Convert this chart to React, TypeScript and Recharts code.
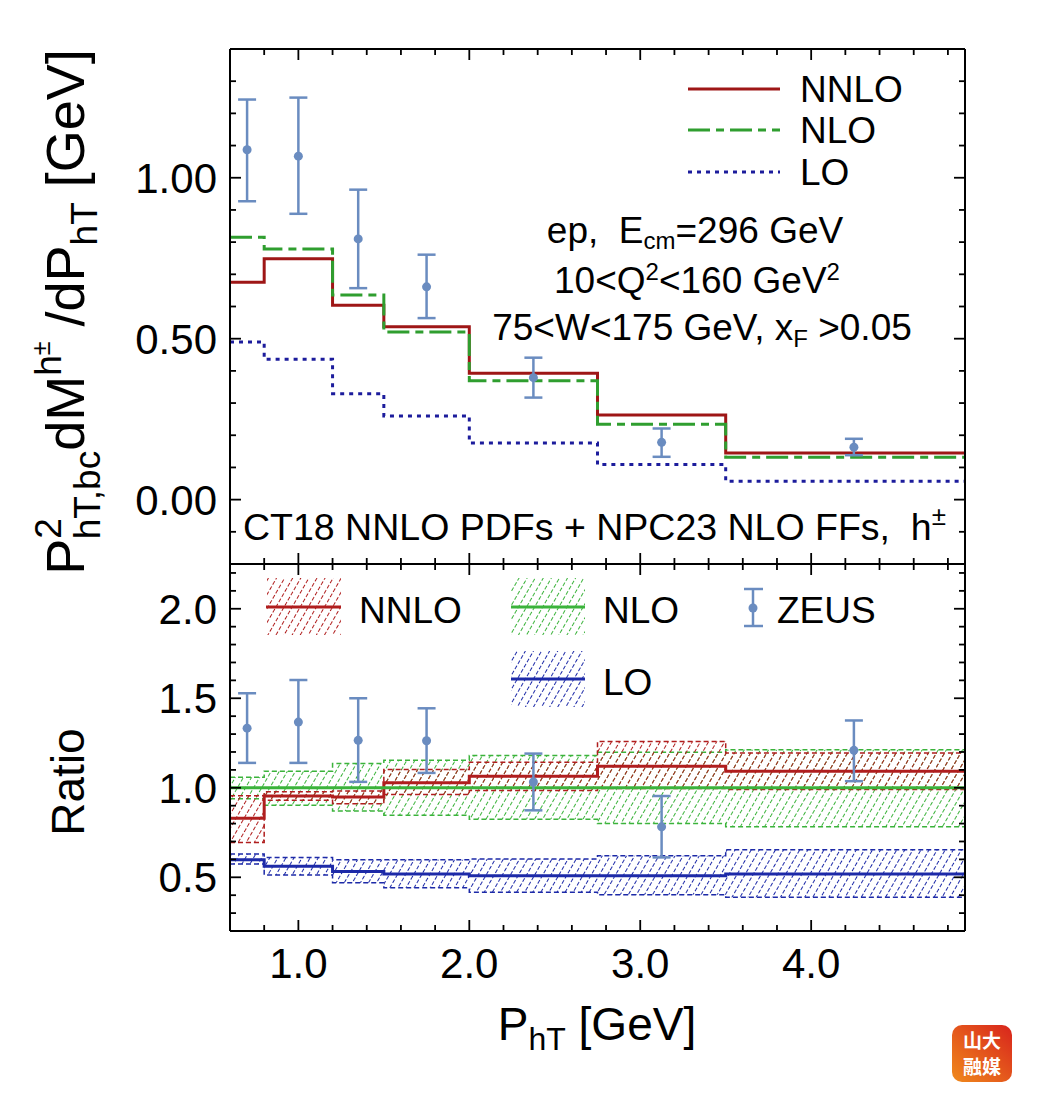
import { ComposedChart, Line, Area, Scatter, ErrorBar, XAxis, YAxis } from 'recharts';

// bin edges of the P_hT histogram and ZEUS bin centres
const binEdges = [0.6, 0.8, 1.2, 1.5, 2.0, 2.75, 3.5, 5.0];
const zeusPt = [0.7, 1.0, 1.35, 1.75, 2.375, 3.125, 4.25];

// upper panel: distributions
const nnloTop = [0.675, 0.748, 0.604, 0.537, 0.393, 0.263, 0.145];
const nloTop = [0.815, 0.779, 0.636, 0.521, 0.369, 0.234, 0.132];
const loTop = [0.49, 0.436, 0.329, 0.26, 0.176, 0.109, 0.057];
const zeusTop = [1.087, 1.067, 0.81, 0.661, 0.379, 0.178, 0.163];
const zeusTopHi = [1.243, 1.249, 0.963, 0.761, 0.441, 0.221, 0.189];
const zeusTopLo = [0.927, 0.888, 0.657, 0.564, 0.317, 0.133, 0.138];

// lower panel: ratios to NLO
const nnloRatio = [0.83, 0.954, 0.948, 1.028, 1.065, 1.12, 1.093];
const nnloRatioHi = [0.955, 0.978, 0.982, 1.102, 1.143, 1.259, 1.194];
const nnloRatioLo = [0.694, 0.93, 0.911, 0.963, 0.985, 0.996, 0.991];
const nloRatio = [1, 1, 1, 1, 1, 1, 1];
const nloRatioHi = [1.059, 1.093, 1.135, 1.154, 1.18, 1.198, 1.213];
const nloRatioLo = [0.939, 0.902, 0.871, 0.847, 0.824, 0.8, 0.783];
const loRatio = [0.598, 0.561, 0.532, 0.519, 0.509, 0.509, 0.519];
const loRatioHi = [0.63, 0.611, 0.598, 0.598, 0.602, 0.62, 0.654];
const loRatioLo = [0.574, 0.513, 0.469, 0.441, 0.417, 0.402, 0.389];
const zeusRatio = [1.333, 1.367, 1.265, 1.263, 1.032, 0.782, 1.209];
const zeusRatioHi = [1.528, 1.602, 1.5, 1.444, 1.191, 0.954, 1.376];
const zeusRatioLo = [1.139, 1.139, 1.033, 1.083, 0.874, 0.611, 1.037];

// ticks
const xTicks = [0.8, 1.0, 1.2, 1.4, 1.6, 1.8, 2.0, 2.2, 2.4, 2.6, 2.8, 3.0, 3.2, 3.4, 3.6, 3.8, 4.0, 4.2, 4.4, 4.6, 4.8];
const topYTicks = [-0.1, 0, 0.1, 0.2, 0.3, 0.4, 0.5, 0.6, 0.7, 0.8, 0.9, 1.0, 1.1, 1.2, 1.3];
const ratioYTicks = [0.3, 0.4, 0.5, 0.6, 0.7, 0.8, 0.9, 1.0, 1.1, 1.2, 1.3, 1.4, 1.5, 1.6, 1.7, 1.8, 1.9, 2.0, 2.1, 2.2];

const FONT = '"Liberation Sans", Arial, Helvetica, sans-serif';
const RED = '#9e1616';
const GREEN = '#2f9e2f';
const BLUE = '#1c1c9c';
const RED2 = '#b01e1e';
const GREEN2 = '#3bb33b';
const BLUE2 = '#1d2aa8';
const ZEUS = '#6a8cc0';
const NLO_DASH = '22 6 8 6';

const steps = (vals: number[]) => {
  const rows = vals.map((v, i) => ({ x: binEdges[i], v }));
  rows.push({ x: binEdges[binEdges.length - 1], v: vals[vals.length - 1] });
  return rows;
};

const bandSteps = (lo: number[], hi: number[]) => {
  const rows = lo.map((l, i) => ({ x: binEdges[i], band: [l, hi[i]] }));
  rows.push({ x: binEdges[binEdges.length - 1], band: [lo[lo.length - 1], hi[hi.length - 1]] });
  return rows;
};

const points = (vals: number[], lo: number[], hi: number[]) =>
  zeusPt.map((x, i) => ({ x, y: vals[i], err: [vals[i] - lo[i], hi[i] - vals[i]] }));

const isMajor = (v: number, step: number) => Math.abs(v / step - Math.round(v / step)) < 1e-6;

// frame ticks point inward, like the Mathematica frame
const XTick = ({ x, y, payload, side, label }: any) => {
  const major = isMajor(payload.value, 1);
  const len = major ? 11 : 6;
  const dir = side === 'bottom' ? -1 : 1;
  return (
    <g>
      <line x1={x} x2={x} y1={y} y2={y + dir * len} stroke="#000" strokeWidth={1.8} />
      {label && major && (
        <text x={x} y={y + 47} textAnchor="middle" fontSize={42} fontFamily={FONT} fill="#000">
          {payload.value.toFixed(1)}
        </text>
      )}
    </g>
  );
};

const YTick = ({ x, y, payload, side, digits }: any) => {
  const major = isMajor(payload.value, 0.5);
  const len = major ? 11 : 6;
  const dir = side === 'left' ? 1 : -1;
  return (
    <g>
      <line x1={x} x2={x + dir * len} y1={y} y2={y} stroke="#000" strokeWidth={1.8} />
      {side === 'left' && major && (
        <text x={x - 13} y={y + 15} textAnchor="end" fontSize={42} fontFamily={FONT} fill="#000">
          {Math.abs(payload.value).toFixed(digits)}
        </text>
      )}
    </g>
  );
};

const frame = { stroke: '#000', strokeWidth: 2 };

const axes = (yDomain: number[], yTicks: number[], digits: number, bottomLabels: boolean) => [
  <XAxis key="xb" xAxisId="b" type="number" dataKey="x" domain={[0.6, 4.9]} allowDataOverflow ticks={xTicks}
    interval={0} orientation="bottom" height={20} tickSize={0} tickMargin={0} tickLine={false} axisLine={frame}
    tick={(p: any) => <XTick {...p} side="bottom" label={bottomLabels} />} />,
  <XAxis key="xt" xAxisId="t" type="number" dataKey="x" domain={[0.6, 4.9]} allowDataOverflow ticks={xTicks}
    interval={0} orientation="top" height={20} tickSize={0} tickMargin={0} tickLine={false} axisLine={frame}
    tick={(p: any) => <XTick {...p} side="top" />} />,
  <YAxis key="yl" yAxisId="l" type="number" domain={yDomain} allowDataOverflow ticks={yTicks}
    interval={0} orientation="left" width={20} tickSize={0} tickMargin={0} tickLine={false} axisLine={frame}
    tick={(p: any) => <YTick {...p} side="left" digits={digits} />} />,
  <YAxis key="yr" yAxisId="r" type="number" domain={yDomain} allowDataOverflow ticks={yTicks}
    interval={0} orientation="right" width={20} tickSize={0} tickMargin={0} tickLine={false} axisLine={frame}
    tick={(p: any) => <YTick {...p} side="right" digits={digits} />} />,
];

const zeusShape = (p: any) => <circle cx={p.cx} cy={p.cy} r={4.5} fill={ZEUS} />;

function TopPanel() {
  return (
    <ComposedChart width={1040} height={600} margin={{ top: 29, right: 55, bottom: 16, left: 210 }}>
      {axes([-0.2, 1.4], topYTicks, 2, false)}
      <Line xAxisId="b" yAxisId="l" data={steps(loTop)} dataKey="v" type="stepAfter" stroke={BLUE}
        strokeWidth={3} strokeDasharray="4 5" dot={false} activeDot={false} isAnimationActive={false} />
      <Line xAxisId="b" yAxisId="l" data={steps(nnloTop)} dataKey="v" type="stepAfter" stroke={RED}
        strokeWidth={3} dot={false} activeDot={false} isAnimationActive={false} />
      <Line xAxisId="b" yAxisId="l" data={steps(nloTop)} dataKey="v" type="stepAfter" stroke={GREEN}
        strokeWidth={3} strokeDasharray={NLO_DASH} dot={false} activeDot={false} isAnimationActive={false} />
      <Scatter xAxisId="b" yAxisId="l" data={points(zeusTop, zeusTopLo, zeusTopHi)} dataKey="y"
        shape={zeusShape} isAnimationActive={false}>
        <ErrorBar dataKey="err" direction="y" width={9} stroke={ZEUS} strokeWidth={2.5} />
      </Scatter>
    </ComposedChart>
  );
}

function BottomPanel() {
  const bandProps = { xAxisId: 'b', yAxisId: 'l', dataKey: 'band', type: 'stepAfter' as const,
    strokeWidth: 1.5, strokeDasharray: '5 3', isAnimationActive: false, dot: false, activeDot: false };
  return (
    <ComposedChart width={1040} height={480} margin={{ top: 24, right: 55, bottom: 49, left: 210 }}>
      {axes([0.2, 2.25], ratioYTicks, 1, true)}
      <Area {...bandProps} data={bandSteps(nloRatioLo, nloRatioHi)} stroke={GREEN2} fill="url(#hatchGreen)" fillOpacity={1} />
      <Area {...bandProps} data={bandSteps(nnloRatioLo, nnloRatioHi)} stroke={RED2} fill="url(#hatchRed)" fillOpacity={1} />
      <Area {...bandProps} data={bandSteps(loRatioLo, loRatioHi)} stroke={BLUE2} fill="url(#hatchBlue)" fillOpacity={1} />
      <Line xAxisId="b" yAxisId="l" data={steps(loRatio)} dataKey="v" type="stepAfter" stroke={BLUE2}
        strokeWidth={3} dot={false} activeDot={false} isAnimationActive={false} />
      <Line xAxisId="b" yAxisId="l" data={steps(nnloRatio)} dataKey="v" type="stepAfter" stroke={RED2}
        strokeWidth={3} dot={false} activeDot={false} isAnimationActive={false} />
      <Line xAxisId="b" yAxisId="l" data={steps(nloRatio)} dataKey="v" type="stepAfter" stroke={GREEN2}
        strokeWidth={3} dot={false} activeDot={false} isAnimationActive={false} />
      <Scatter xAxisId="b" yAxisId="l" data={points(zeusRatio, zeusRatioLo, zeusRatioHi)} dataKey="y"
        shape={zeusShape} isAnimationActive={false}>
        <ErrorBar dataKey="err" direction="y" width={9} stroke={ZEUS} strokeWidth={2.5} />
      </Scatter>
    </ComposedChart>
  );
}

const Hatch = ({ id, color }: { id: string; color: string }) => (
  <pattern id={id} patternUnits="userSpaceOnUse" width={7} height={12} patternTransform="rotate(30)">
    <line x1={3.5} y1={0} x2={3.5} y2={12} stroke={color} strokeWidth={1} strokeDasharray="4 2" />
  </pattern>
);

function Overlay() {
  const t = { fontFamily: FONT, fill: '#000' };
  return (
    <svg width={1040} height={1108} style={{ position: 'absolute', left: 0, top: 0, pointerEvents: 'none' }}>
      {/* upper legend */}
      <line x1={688} x2={780} y1={89} y2={89} stroke={RED} strokeWidth={3} />
      <line x1={688} x2={780} y1={130} y2={130} stroke={GREEN} strokeWidth={3} strokeDasharray={NLO_DASH} />
      <line x1={688} x2={780} y1={172} y2={172} stroke={BLUE} strokeWidth={3} strokeDasharray="4 5" />
      <text x={800} y={102} fontSize={37} {...t}>NNLO</text>
      <text x={800} y={143} fontSize={37} {...t}>NLO</text>
      <text x={800} y={185} fontSize={37} {...t}>LO</text>

      {/* kinematics */}
      <text x={695} y={243} fontSize={37} textAnchor="middle" {...t}>
        {'ep,\u00a0 E'}<tspan fontSize={24} dy={6}>cm</tspan><tspan dy={-6}>=296 GeV</tspan>
      </text>
      <text x={697} y={293} fontSize={37} textAnchor="middle" {...t}>
        10&lt;Q<tspan fontSize={24} dy={-13}>2</tspan><tspan dy={13}>&lt;160 GeV</tspan><tspan fontSize={24} dy={-13}>2</tspan>
      </text>
      <text x={702} y={340} fontSize={37} textAnchor="middle" {...t}>
        75&lt;W&lt;175 GeV, x<tspan fontSize={24} dy={7}>F</tspan><tspan dy={-7}> &gt;0.05</tspan>
      </text>
      <text x={243} y={540} fontSize={37.5} {...t}>
        {'CT18 NNLO PDFs + NPC23 NLO FFs,\u00a0 h'}<tspan fontSize={26} dy={-15}>±</tspan>
      </text>

      {/* lower legend */}
      <rect x={267} y={578} width={74} height={57} fill="url(#hatchRed)" />
      <line x1={266} x2={341} y1={607} y2={607} stroke={RED2} strokeWidth={3} />
      <text x={359} y={623} fontSize={37} {...t}>NNLO</text>
      <rect x={511} y={578} width={74} height={57} fill="url(#hatchGreen)" />
      <line x1={511} x2={585} y1={607} y2={607} stroke={GREEN2} strokeWidth={3} />
      <text x={603} y={623} fontSize={37} {...t}>NLO</text>
      <rect x={511} y={651} width={74} height={56} fill="url(#hatchBlue)" />
      <line x1={511} x2={585} y1={679} y2={679} stroke={BLUE2} strokeWidth={3} />
      <text x={603} y={695} fontSize={37} {...t}>LO</text>
      <line x1={753} x2={753} y1={589} y2={626} stroke={ZEUS} strokeWidth={2.5} />
      <line x1={744} x2={763} y1={589} y2={589} stroke={ZEUS} strokeWidth={2.5} />
      <line x1={744} x2={763} y1={626} y2={626} stroke={ZEUS} strokeWidth={2.5} />
      <circle cx={753} cy={608} r={4.5} fill={ZEUS} />
      <text x={777} y={623} fontSize={37} {...t}>ZEUS</text>

      {/* axis titles */}
      <text transform="translate(84,312) rotate(-90)" textAnchor="middle" fontSize={54} {...t}>
        P<tspan fontSize={37} dy={-23}>2</tspan><tspan fontSize={37} dx={-21} dy={39}>hT,bc</tspan>
        <tspan dy={-16}>dM</tspan><tspan fontSize={37} dy={-23}>h</tspan><tspan fontSize={25} dy={-11}>±</tspan>
        <tspan dy={34}> /dP</tspan><tspan fontSize={37} dy={13}>hT</tspan><tspan dy={-13}> [GeV]</tspan>
      </text>
      <text transform="translate(84,782) rotate(-90)" textAnchor="middle" fontSize={46} {...t}>Ratio</text>
      <text x={597} y={1040} textAnchor="middle" fontSize={46} {...t}>
        P<tspan fontSize={32} dy={10}>hT</tspan><tspan dy={-10}> [GeV]</tspan>
      </text>

      {/* badge */}
      <defs>
        <linearGradient id="badge" x1="0" y1="1" x2="1" y2="0">
          <stop offset="0%" stopColor="#f08a1c" />
          <stop offset="100%" stopColor="#d8241c" />
        </linearGradient>
      </defs>
      <rect x={952} y={1025} width={60} height={57} rx={10} fill="url(#badge)" />
      <text x={982} y={1048} textAnchor="middle" fontSize={19} fontWeight="bold" fill="#fff"
        fontFamily='"Noto Sans CJK SC", sans-serif'>山大</text>
      <text x={982} y={1074} textAnchor="middle" fontSize={19} fontWeight="bold" fill="#fff"
        fontFamily='"Noto Sans CJK SC", sans-serif'>融媒</text>
    </svg>
  );
}

export default function App() {
  return (
    <div style={{ position: 'absolute', left: 0, top: 0, width: 1040, height: 1108, background: '#fff', fontFamily: FONT }}>
      <svg width={0} height={0} style={{ position: 'absolute' }}>
        <defs>
          <Hatch id="hatchRed" color={RED2} />
          <Hatch id="hatchGreen" color={GREEN2} />
          <Hatch id="hatchBlue" color={BLUE2} />
        </defs>
      </svg>
      <div style={{ position: 'absolute', left: 0, top: 0 }}>
        <TopPanel />
      </div>
      <div style={{ position: 'absolute', left: 0, top: 520 }}>
        <BottomPanel />
      </div>
      <Overlay />
    </div>
  );
}
